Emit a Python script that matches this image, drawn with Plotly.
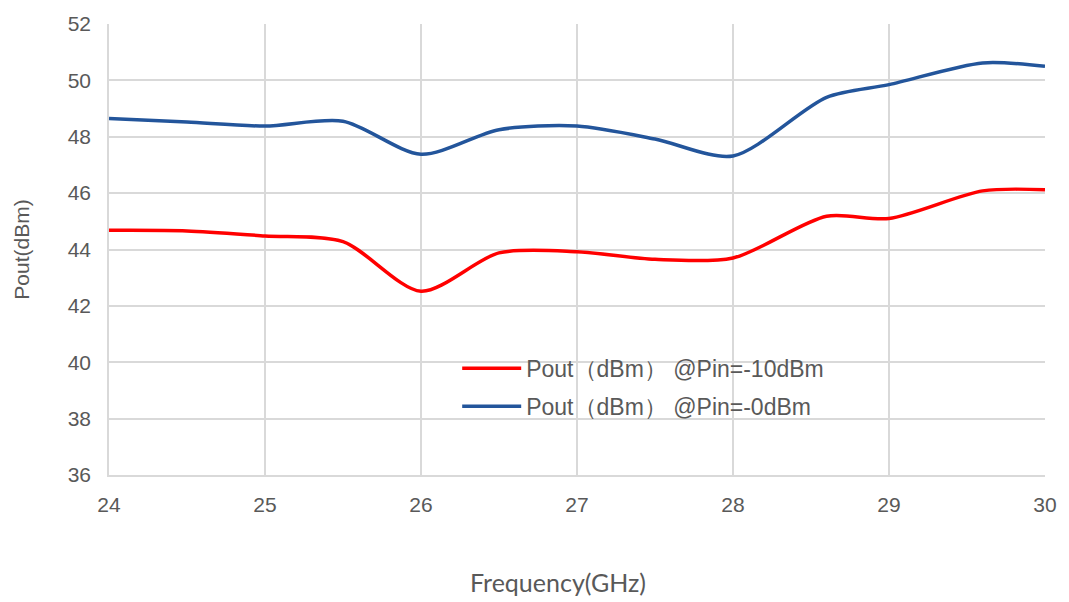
import plotly.graph_objects as go

freq = [24, 24.5, 25, 25.5, 26, 26.5, 27, 27.5, 28, 28.6, 29, 29.6, 30]
pout_m10 = [44.68, 44.66, 44.48, 44.28, 42.52, 43.88, 43.92, 43.65, 43.70, 45.18, 45.10, 46.08, 46.12]
pout_0 = [48.65, 48.52, 48.38, 48.55, 47.38, 48.25, 48.38, 47.92, 47.32, 49.40, 49.85, 50.62, 50.50]

names = ["Pout（dBm） @Pin=-10dBm", "Pout（dBm） @Pin=-0dBm"]
colors = ["#ff0000", "#23559b"]

fig = go.Figure()
for i, (ys, nm, col) in enumerate(zip([pout_m10, pout_0], names, colors)):
    fig.add_trace(go.Scatter(
        x=freq, y=ys, mode="lines", name=nm,
        line=dict(color=col, width=3.5, shape="spline", smoothing=0.8),
        legendgroup=f"g{i}",
    ))

grid = "#d9d9d9"
tickfont = dict(family="Liberation Sans, Arial, sans-serif", size=21, color="#595959")

fig.update_layout(
    width=1069, height=602,
    margin=dict(l=109, r=19, t=20, b=127),
    paper_bgcolor="white", plot_bgcolor="white",
    showlegend=True,
    legend=dict(
        x=0.372, y=0.284, xanchor="left", yanchor="top",
        bgcolor="rgba(0,0,0,0)",
        font=dict(family="Liberation Sans, Arial, sans-serif", size=23, color="#595959"),
        tracegroupgap=5, itemwidth=59,
    ),
    xaxis=dict(
        range=[24, 30], dtick=1, tick0=24,
        showgrid=True, gridcolor=grid, gridwidth=1.5,
        showline=True, linecolor=grid, linewidth=1.5, mirror=False,
        zeroline=False, ticks="", tickfont=tickfont, ticklabelstandoff=10,
    ),
    yaxis=dict(
        range=[36, 52], dtick=2, tick0=36,
        showgrid=True, gridcolor=grid, gridwidth=1.5,
        showline=True, linecolor=grid, linewidth=1.5,
        zeroline=False, ticks="", tickfont=tickfont, ticklabelstandoff=12,
        title=dict(text="Pout(dBm)", standoff=32,
                   font=dict(family="Liberation Sans, Arial, sans-serif", size=21, color="#595959")),
    ),
    annotations=[dict(
        text="Frequency(GHz)", xref="paper", yref="paper",
        x=0.48, y=-0.237, xanchor="center", yanchor="middle", showarrow=False,
        font=dict(family="Lato, Open Sans, sans-serif", size=25, color="#595959"),
    )],
)

fig.write_html("out.html", config={"displayModeBar": False},
               post_script="document.body.style.margin='0';")
